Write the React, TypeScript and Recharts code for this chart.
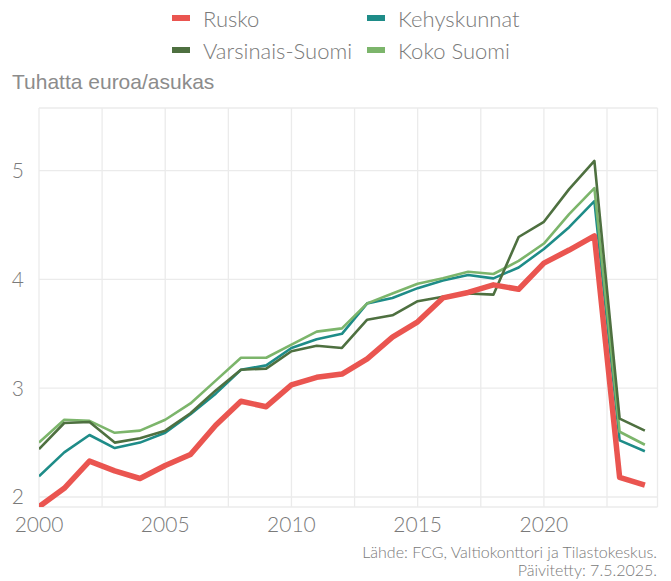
import React from 'react';
import { LineChart, Line, XAxis, YAxis, CartesianGrid } from 'recharts';

const years = [2000, 2001, 2002, 2003, 2004, 2005, 2006, 2007, 2008, 2009, 2010, 2011, 2012, 2013, 2014, 2015, 2016, 2017, 2018, 2019, 2020, 2021, 2022, 2023, 2024];

const rusko = [1.91, 2.08, 2.33, 2.24, 2.17, 2.29, 2.39, 2.66, 2.88, 2.83, 3.03, 3.10, 3.13, 3.27, 3.47, 3.61, 3.83, 3.88, 3.95, 3.91, 4.15, 4.27, 4.40, 2.18, 2.11];
const kehyskunnat = [2.19, 2.41, 2.57, 2.45, 2.50, 2.59, 2.76, 2.95, 3.17, 3.21, 3.37, 3.45, 3.50, 3.78, 3.83, 3.92, 3.99, 4.04, 4.01, 4.11, 4.28, 4.48, 4.72, 2.52, 2.42];
const varsinaisSuomi = [2.44, 2.68, 2.69, 2.50, 2.54, 2.61, 2.77, 2.98, 3.17, 3.18, 3.34, 3.39, 3.37, 3.63, 3.67, 3.80, 3.84, 3.87, 3.86, 4.39, 4.53, 4.83, 5.09, 2.72, 2.61];
const kokoSuomi = [2.50, 2.71, 2.70, 2.59, 2.61, 2.71, 2.86, 3.07, 3.28, 3.28, 3.40, 3.52, 3.55, 3.78, 3.87, 3.96, 4.01, 4.07, 4.05, 4.17, 4.33, 4.60, 4.84, 2.60, 2.48];

const xTicks = [2000, 2002.5, 2005, 2007.5, 2010, 2012.5, 2015, 2017.5, 2020, 2022.5];
const yTicks = [2, 3, 4, 5];

const seriesNames = ['Rusko', 'Kehyskunnat', 'Varsinais-Suomi', 'Koko Suomi'];
const seriesColors = ['#EA5550', '#1E8C88', '#4E7040', '#7CB56B'];

const data = years.map((y, i) => ({
  year: y,
  rusko: rusko[i],
  kehyskunnat: kehyskunnat[i],
  varsinais: varsinaisSuomi[i],
  koko: kokoSuomi[i],
}));

const legendFont = 'Lato, "Open Sans", sans-serif';
const gray = '#7a7a7a';

const legendItems = [
  { name: seriesNames[0], color: seriesColors[0], left: 172, top: 18 },
  { name: seriesNames[1], color: seriesColors[1], left: 367, top: 18 },
  { name: seriesNames[2], color: seriesColors[2], left: 172, top: 50 },
  { name: seriesNames[3], color: seriesColors[3], left: 367, top: 50 },
];

export default function App() {
  return (
    <div style={{ position: 'absolute', left: 0, top: 0, width: 671, height: 581, background: '#fff', overflow: 'hidden' }}>
      {legendItems.map((it) => (
        <div key={it.name} style={{ position: 'absolute', left: it.left, top: it.top - 14, height: 28, display: 'flex', alignItems: 'center', fontFamily: legendFont, fontWeight: 300, fontSize: 22, color: gray, whiteSpace: 'nowrap' }}>
          <span style={{ display: 'inline-block', width: 18, height: 6, background: it.color, marginRight: 13 }} />
          <span>{it.name}</span>
        </div>
      ))}
      <div style={{ position: 'absolute', left: 12, top: 70, fontFamily: '"Liberation Sans", Arial, sans-serif', fontWeight: 400, fontSize: 21, color: '#8c8c8c', whiteSpace: 'nowrap', lineHeight: '24px' }}>
        Tuhatta euroa/asukas
      </div>
      <div style={{ position: 'absolute', left: 0, top: 0 }}>
        <LineChart width={671} height={581} data={data} margin={{ top: 108, right: 13.5, left: 0, bottom: 44 }}>
          <CartesianGrid stroke="#ebebeb" strokeWidth={1.3} />
          <XAxis
            dataKey="year"
            type="number"
            domain={[2000, 2024.5]}
            ticks={xTicks}
            allowDataOverflow
            tickFormatter={(v: number) => (v % 5 === 0 ? String(v) : '')}
            axisLine={false}
            tickLine={false}
            tickSize={0}
            tickMargin={10}
            height={30}
            interval={0}
            tick={{ fill: gray, fontSize: 21, fontFamily: legendFont, fontWeight: 300 }}
          />
          <YAxis
            type="number"
            domain={[1.908, 5.576]}
            ticks={yTicks}
            allowDataOverflow
            axisLine={false}
            tickLine={false}
            tickSize={0}
            tickMargin={15}
            width={39}
            interval={0}
            tick={{ fill: gray, fontSize: 21, fontFamily: legendFont, fontWeight: 300 }}
          />
          <Line dataKey="kehyskunnat" name={seriesNames[1]} stroke={seriesColors[1]} strokeWidth={2.6} dot={false} isAnimationActive={false} strokeLinejoin="round" />
          <Line dataKey="koko" name={seriesNames[3]} stroke={seriesColors[3]} strokeWidth={2.6} dot={false} isAnimationActive={false} strokeLinejoin="round" />
          <Line dataKey="varsinais" name={seriesNames[2]} stroke={seriesColors[2]} strokeWidth={2.6} dot={false} isAnimationActive={false} strokeLinejoin="round" />
          <Line dataKey="rusko" name={seriesNames[0]} stroke={seriesColors[0]} strokeWidth={5.5} dot={false} isAnimationActive={false} strokeLinejoin="round" />
        </LineChart>
      </div>
      <div style={{ position: 'absolute', right: 14, top: 543, textAlign: 'right', fontFamily: legendFont, fontWeight: 300, fontSize: 16, color: gray, lineHeight: '18px', whiteSpace: 'nowrap' }}>
        <div>Lähde: FCG, Valtiokonttori ja Tilastokeskus.</div>
        <div>Päivitetty: 7.5.2025.</div>
      </div>
    </div>
  );
}
